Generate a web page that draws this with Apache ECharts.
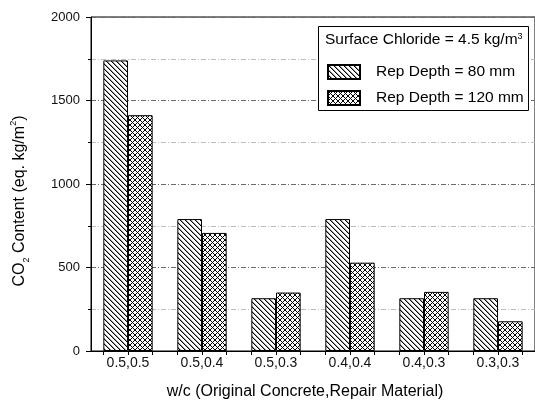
<!DOCTYPE html>
<html>
<head>
<meta charset="utf-8">
<script src="https://cdn.jsdelivr.net/npm/echarts@6/dist/echarts.min.js"></script>
<style>
  html, body { margin: 0; padding: 0; background: #fff; }
  #chart { width: 535px; height: 407px; }
</style>
</head>
<body>
<div id="chart"></div>
<script>
// w/c pairs: (original concrete, repair material)
const categories = ['0.5,0.5', '0.5,0.4', '0.5,0.3', '0.4,0.4', '0.4,0.3', '0.3,0.3'];
// CO2 content (eq. kg/m2) for each repair depth
const depth80 = [1740, 790, 316, 790, 316, 316];
const depth120 = [1412, 707, 350, 529, 354, 178];
const seriesNames = ['Rep Depth = 80 mm', 'Rep Depth = 120 mm'];
const yTicks = { min: 0, max: 2000, interval: 500 };

const FONT = '"Liberation Sans", Arial, sans-serif';

// Fill patterns: single diagonal hatch and diagonal cross-hatch
function makePattern(size, pixels) {
  const c = document.createElement('canvas');
  c.width = size; c.height = size;
  const g = c.getContext('2d');
  g.fillStyle = '#fff';
  g.fillRect(0, 0, size, size);
  pixels.forEach(p => { g.fillStyle = p[2]; g.fillRect(p[0], p[1], 1, 1); });
  return { image: c, repeat: 'repeat' };
}
const hatchPx = [];
for (let i = 0; i < 5; i++) {
  hatchPx.push([i, i, '#000']);
  hatchPx.push([(i + 1) % 5, i, '#9a9a9a']);
}
const hatch = makePattern(5, hatchPx);
const crossPx = [];
for (let i = 0; i < 5; i++) {
  crossPx.push([i, i, '#000']);
  crossPx.push([4 - i, i, '#000']);
}
const crossHatch = makePattern(5, crossPx);

// tick marks at both edges and the middle of every bar pair
const pairTicks = [];
categories.forEach((c, i) => { pairTicks.push(i + 1 / 6, i + 0.5, i + 5 / 6); });

const chart = echarts.init(document.getElementById('chart'), null, { renderer: 'canvas' });
chart.setOption({
  animation: false,
  backgroundColor: '#fff',
  textStyle: { fontFamily: FONT },
  grid: {
    left: 91, right: -3, top: 17, bottom: 56,
    show: true, borderColor: '#000', borderWidth: 1, backgroundColor: 'transparent'
  },
  legend: {
    orient: 'vertical',
    left: 322, top: 59,
    itemWidth: 32, itemHeight: 14, itemGap: 10,
    icon: 'rect',
    textStyle: { fontFamily: FONT, fontSize: 15.5, color: '#000', padding: [0, 0, 0, 11] },
    data: seriesNames,
    z: 6
  },
  xAxis: [
    {
      type: 'category',
      data: categories,
      boundaryGap: true,
      axisLine: { lineStyle: { color: '#000', width: 1 } },
      axisTick: { show: false },
      axisLabel: { color: '#111', fontSize: 14, margin: 5, fontFamily: FONT },
      splitLine: { show: false }
    },
    {
      type: 'value',
      min: 0, max: categories.length,
      position: 'bottom',
      axisLine: { show: false },
      axisLabel: { show: false },
      splitLine: { show: false },
      axisTick: { show: true, length: 4, customValues: pairTicks, lineStyle: { color: '#000' } }
    }
  ],
  yAxis: {
    type: 'value',
    min: yTicks.min, max: yTicks.max, interval: yTicks.interval,
    axisLine: { show: true, lineStyle: { color: '#000', width: 1 } },
    axisTick: { show: true, length: 5, lineStyle: { color: '#000' } },
    minorTick: { show: true, splitNumber: 2, length: 3, lineStyle: { color: '#000' } },
    axisLabel: { color: '#111', fontSize: 13, margin: 11, fontFamily: FONT, formatter: v => String(v) },
    splitLine: { show: true, lineStyle: { color: '#6a6a6a', width: 1, type: [5, 2, 1, 2] } },
    minorSplitLine: { show: true, lineStyle: { color: '#bdbdbd', width: 1, type: [5, 2, 1, 2] } }
  },
  series: [
    {
      name: seriesNames[0], type: 'bar', data: depth80,
      barWidth: '33.33%', barGap: '0%',
      itemStyle: { color: hatch, borderColor: '#000', borderWidth: 1 },
      z: 3
    },
    {
      name: seriesNames[1], type: 'bar', data: depth120,
      barWidth: '33.33%', barGap: '0%',
      itemStyle: { color: crossHatch, borderColor: '#000', borderWidth: 1 },
      z: 3
    }
  ],
  graphic: [
    {
      type: 'rect', z: 4,
      shape: { x: 318.5, y: 26.5, width: 210, height: 84 },
      style: { fill: '#fff', stroke: '#000', lineWidth: 1 }
    },
    {
      type: 'text', z: 6, x: 325, y: 40,
      style: {
        text: 'Surface Chloride = 4.5 kg/m{sup|3}',
        font: '15.5px ' + FONT, fill: '#000',
        textVerticalAlign: 'middle', textAlign: 'left',
        rich: { sup: { fontSize: 9, verticalAlign: 'top', fontFamily: FONT, fill: '#000' } }
      }
    },
    {
      type: 'text', z: 6, x: 20, y: 201, rotation: Math.PI / 2,
      style: {
        text: 'CO{sub|2} Content (eq. kg/m{sup|2})',
        font: '16px ' + FONT, fill: '#000',
        textAlign: 'center', textVerticalAlign: 'middle',
        lineHeight: 22,
        rich: {
          sub: { fontSize: 9, verticalAlign: 'bottom', fontFamily: FONT, fill: '#000' },
          sup: { fontSize: 9, verticalAlign: 'top', fontFamily: FONT, fill: '#000' }
        }
      }
    },
    {
      type: 'text', z: 6, x: 305, y: 392,
      style: {
        text: 'w/c (Original Concrete,Repair Material)',
        font: '16px ' + FONT, fill: '#000',
        textAlign: 'center', textVerticalAlign: 'middle'
      }
    }
  ]
});
</script>
</body>
</html>
